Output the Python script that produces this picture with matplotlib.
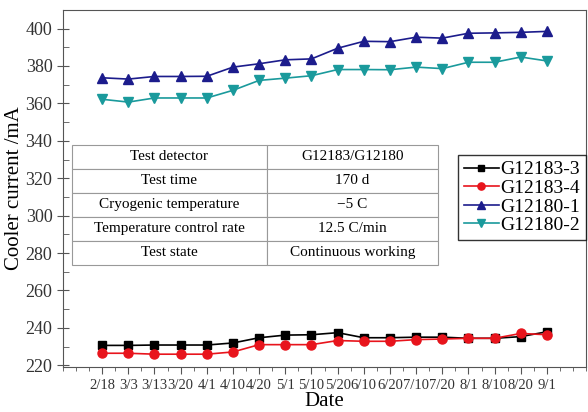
import numpy as np
import matplotlib
matplotlib.use('Agg')
import matplotlib.pyplot as plt
from matplotlib.ticker import MultipleLocator

plt.rcParams['font.family'] = ['Liberation Serif', 'DejaVu Serif']
plt.rcParams['mathtext.fontset'] = 'stix'

dates = ['2/18', '3/3', '3/13', '3/20', '4/1', '4/10', '4/20', '5/1', '5/10', '5/20',
         '6/10', '6/20', '7/10', '7/20', '8/1', '8/10', '8/20', '9/1']

g12183_3 = [230.6, 230.6, 230.8, 230.8, 230.8, 231.9, 234.7, 236.1, 236.3, 237.4,
            234.7, 234.7, 235.0, 235.0, 234.4, 234.4, 235.3, 237.9]
g12183_4 = [226.4, 226.4, 225.9, 225.9, 225.9, 227.1, 231.0, 231.0, 231.0, 233.2,
            232.8, 232.8, 233.7, 234.0, 234.4, 234.4, 237.0, 236.3]
g12180_1 = [373.7, 373.0, 374.4, 374.4, 374.5, 379.4, 381.2, 383.3, 383.8, 389.5,
            393.2, 393.0, 395.4, 394.9, 397.5, 397.7, 398.0, 398.5]
g12180_2 = [362.2, 360.7, 362.9, 362.9, 362.9, 367.0, 372.3, 373.5, 374.8, 378.1,
            378.1, 378.0, 379.4, 378.6, 382.0, 382.0, 384.8, 382.7]

table_rows = [['Test detector', 'G12183/G12180'],
              ['Test time', '170 d'],
              ['Cryogenic temperature', '\u22125 C'],
              ['Temperature control rate', '12.5 C/min'],
              ['Test state', 'Continuous working']]

x = np.arange(len(dates))

fig = plt.figure(figsize=(5.88, 4.12), dpi=100)
ax = fig.add_axes([0.107, 0.109, 0.890, 0.867])

ax.plot(x, g12183_3, color='black', marker='s', markersize=6, linewidth=1.2, label='G12183-3')
ax.plot(x, g12183_4, color='#e8141c', marker='o', markersize=6.5, linewidth=1.2, label='G12183-4')
ax.plot(x, g12180_1, color='#1c1c8c', marker='^', markersize=7, linewidth=1.2, label='G12180-1')
ax.plot(x, g12180_2, color='#1a9a9c', marker='v', markersize=7, linewidth=1.2, label='G12180-2')

ax.set_xlim(-1.5, 18.5)
ax.set_ylim(219, 410)
ax.set_xticks(x)
ax.set_xticklabels(dates, fontsize=10.5)
ax.xaxis.set_minor_locator(MultipleLocator(0.5))
ax.yaxis.set_major_locator(MultipleLocator(20))
ax.yaxis.set_minor_locator(MultipleLocator(10))
ax.tick_params(axis='y', which='major', direction='inout', length=8, labelsize=13, color='#555555', labelcolor='#333333')
ax.tick_params(axis='y', which='minor', direction='in', length=4, color='#555555')
ax.tick_params(axis='x', which='major', direction='out', length=5, color='#555555', labelcolor='#333333')
ax.tick_params(axis='x', which='minor', direction='out', length=3, color='#555555')
for s in ax.spines.values():
    s.set_color('#555555')

ax.set_xlabel('Date', fontsize=15, labelpad=0)
ax.set_ylabel('Cooler current /mA', fontsize=15, labelpad=1)

tb = ax.table(cellText=table_rows, cellLoc='center', colWidths=[0.533, 0.467],
              bbox=[0.017, 0.286, 0.70, 0.336])
tb.auto_set_font_size(False)
tb.set_fontsize(11)
for (r, c), cell in tb.get_celld().items():
    cell.set_edgecolor('#999999')
    cell.set_linewidth(0.8)
    cell.set_facecolor('white')

leg = ax.legend(loc='upper right', bbox_to_anchor=(1.0, 0.594), borderaxespad=0,
                fontsize=14, frameon=True, fancybox=False, edgecolor='black',
                handlelength=1.8, handletextpad=0.1, labelspacing=0.05,
                borderpad=0.3, markerscale=0.8)
leg.get_frame().set_linewidth(1.0)

fig.savefig('out.png', dpi=100)
